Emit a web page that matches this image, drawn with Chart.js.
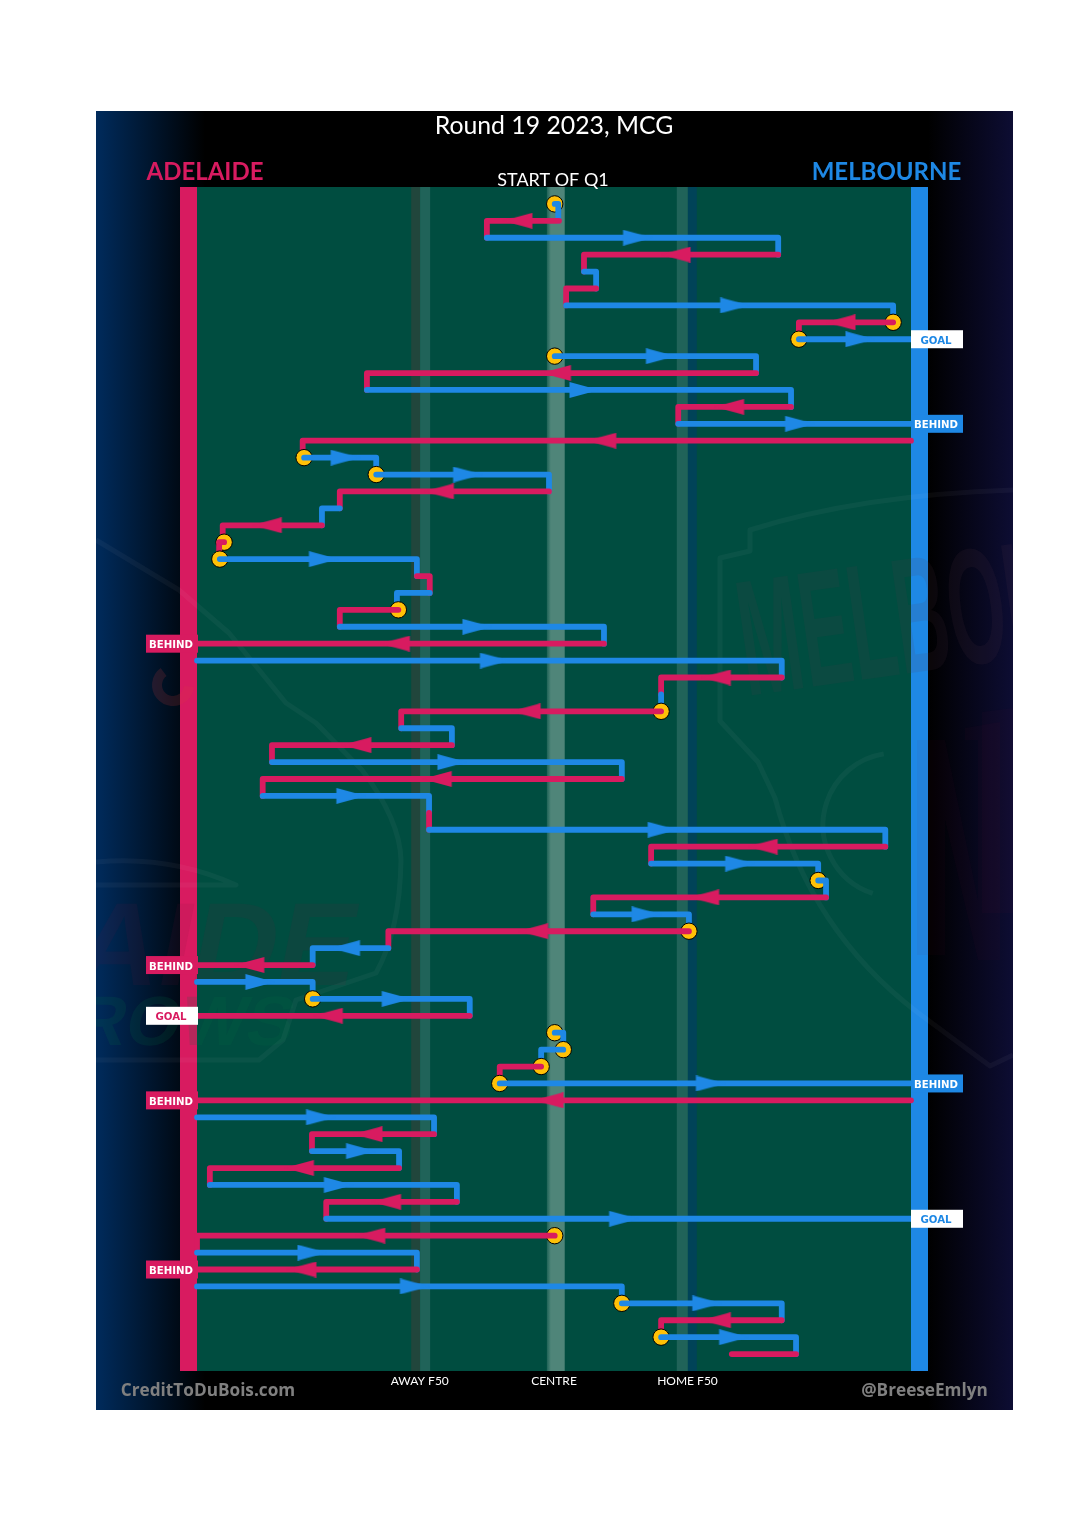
<!DOCTYPE html>
<html>
<head>
<meta charset="utf-8">
<style>html,body{margin:0;padding:0;background:#fff}canvas{display:block}</style>
<script src="https://cdn.jsdelivr.net/npm/chart.js@4"></script>
</head>
<body>
<canvas id="c" width="1080" height="1535"></canvas>
<script>
// Chain of possessions, one entry per row. Positions are % of field length (0 = away goal, 100 = home goal).
const stepTeam = ['M','A','M','A','M','A','M','A','M','M','A','M','A','M','A','M','M','A','M','A','A','M','A','M','A','M','A','M','A','M','A','M','A','M','A','M','A','M','A','M','M','A','M','A','M','A','M','M','A','M','M','A','M','A','M','A','M','A','M','A','M','A','M','A','M','M','A','M','A'];
const stepFrom = [50.1,50.7,40.6,81.4,54.2,55.9,51.7,97.5,84.3,50.1,78.3,23.8,83.2,67.4,100,15.0,25.1,49.3,20.0,17.5,3.8,3.2,30.8,32.6,28.2,20.0,57.0,0,81.9,65.0,65.0,28.6,35.7,10.5,59.5,9.2,32.5,32.5,96.4,63.6,87.0,88.1,55.5,68.9,26.8,16.2,0,16.2,38.2,50.1,51.3,48.2,42.4,100,0,33.2,16.1,28.3,1.8,36.4,18.1,50.1,0,30.8,0,59.5,81.9,65.0,83.9];
const stepTo   = [50.6,40.6,81.4,54.2,55.9,51.7,97.5,84.3,100,78.3,23.8,83.2,67.4,100,14.8,25.1,49.3,20.0,17.5,3.6,3.1,30.8,32.6,28.0,20.0,57.0,0,81.9,65.0,65.0,28.6,35.7,10.5,59.5,9.2,32.5,32.5,96.4,63.6,87.0,88.1,55.5,68.9,26.8,16.2,0,16.2,38.2,0,51.3,48.2,42.4,100,0,33.2,16.1,28.3,1.8,36.4,18.1,100,0,30.8,0,59.5,81.9,65.0,83.9,74.9];
const turnoverRows = [0,7,8,9,15,16,20,21,24,30,40,43,47,49,50,51,52,61,65,67];
const chainStartRows = [9,49,61];
const scoreRows = [8,13,26,45,48,52,53,60,63];
const scoreLabels = ['GOAL','BEHIND','BEHIND','BEHIND','GOAL','BEHIND','BEHIND','GOAL','BEHIND'];
const fieldTicks = [31.2,50,68.7];
const fieldTickLabels = ['AWAY F50','CENTRE','HOME F50'];

const RED='#D81B60', BLUE='#1E88E5', AMBER='#FFC107', GREEN='#004D40';
const teamColor = t => t==='A' ? RED : BLUE;

function makeArrow(color){
  const c=document.createElement('canvas'); c.width=42; c.height=16;
  const g=c.getContext('2d'); g.fillStyle=color;
  g.beginPath(); g.moveTo(11.5,0); g.lineTo(41,8); g.lineTo(11.5,16); g.closePath(); g.fill();
  return c;
}
const arrows={A:makeArrow(RED),M:makeArrow(BLUE)};

const datasets=[]; let seq=0; const TOTAL=200;
stepTeam.forEach((team,i)=>{
  if(turnoverRows.includes(i)){
    datasets.push({data:[{x:stepFrom[i],y:i}],showLine:false,order:TOTAL-(seq++),clip:false,
      pointStyle:'circle',pointRadius:8.2,pointBackgroundColor:AMBER,pointBorderColor:'#000',pointBorderWidth:1});
  }
  const a=stepFrom[i], b=stepTo[i], mid=(a+b)/2;
  const pts=[{x:a,y:i},{x:mid,y:i},{x:b,y:i}];
  if(i+1<stepTeam.length && !chainStartRows.includes(i+1) && !scoreRows.includes(i)) pts.push({x:b,y:i+1});
  const hasArrow=Math.abs(b-a)>9.5;
  datasets.push({data:pts,showLine:true,order:TOTAL-(seq++),clip:false,
    borderColor:teamColor(team),borderWidth:5.8,borderCapStyle:'round',borderJoinStyle:'round',tension:0,
    pointStyle:pts.map((p,k)=>k===1&&hasArrow?arrows[team]:false),
    pointRadius:pts.map((p,k)=>k===1&&hasArrow?10:0),
    pointRotation:pts.map(()=>b>=a?0:180),
    pointBorderWidth:0});
});

const backdrop={id:'backdrop',
  beforeDraw(chart){
    const {ctx,chartArea:ar,scales:{x}}=chart;
    ctx.save();
    const g=ctx.createLinearGradient(96,0,1013,0);
    const f=p=>(p-96)/917;
    g.addColorStop(0,'#002B5C'); g.addColorStop(f(205),'#000'); g.addColorStop(f(928),'#000'); g.addColorStop(1,'#0D0D33');
    ctx.fillStyle=g; ctx.fillRect(96,111,917,1299);
    const h=ar.bottom-ar.top;
    ctx.fillStyle=GREEN; ctx.fillRect(ar.left,ar.top,ar.right-ar.left,h);
    const band=(a,b,c)=>{const l=x.getPixelForValue(a),r=x.getPixelForValue(b);ctx.fillStyle=c;ctx.fillRect(l,ar.top,r-l,h);};
    band(30.0,31.25,'#21463C'); band(31.25,32.65,'#206359');
    band(67.2,68.75,'#206359'); band(68.75,70.0,'#004358');
    const cl=x.getPixelForValue(49.0), cr=x.getPixelForValue(51.5);
    const cg=ctx.createLinearGradient(cl,0,cl+4,0);
    cg.addColorStop(0,'#1f6357'); cg.addColorStop(1,'#4F8579');
    ctx.fillStyle=cg; ctx.fillRect(cl,ar.top,cr-cl,h);
    ctx.fillStyle=RED; ctx.fillRect(ar.left-17,ar.top,17,h);
    ctx.fillStyle=BLUE; ctx.fillRect(ar.right,ar.top,17,h);
    // faint club logos
    ctx.beginPath(); ctx.rect(96,187,917,1184); ctx.clip();
    const tint='rgba(120,20,60,0.10)', line='rgba(255,255,255,0.04)';
    ctx.fillStyle='rgba(90,60,70,0.12)';
    ctx.save(); ctx.translate(747,696); ctx.rotate(-0.14); ctx.scale(0.45,1); ctx.font='bold 165px "Liberation Sans"'; ctx.textBaseline='alphabetic'; ctx.fillText('MELBOURNE',0,0); ctx.restore();
    ctx.fillStyle='rgba(120,20,60,0.05)';
    const poly=(pts)=>{ctx.beginPath();pts.forEach((p,i)=>i?ctx.lineTo(p[0],p[1]):ctx.moveTo(p[0],p[1]));ctx.closePath();ctx.fill();};
    poly([[917,740],[945,740],[978,900],[978,740],[965,740],[965,728],[1000,722],[1000,960],[978,960],[945,820],[945,955],[917,955]]);
    poly([[982,712],[1013,708],[1013,913],[982,913]]);
    ctx.fillStyle=tint;
    ctx.save(); ctx.translate(350,985); ctx.transform(1,0,-0.2,1,0,0); ctx.textAlign='right'; ctx.font='bold 118px "Liberation Sans"'; ctx.fillText('ADELAIDE',0,0); ctx.restore();
    ctx.save(); ctx.translate(290,1045); ctx.transform(1,0,-0.2,1,0,0); ctx.textAlign='right'; ctx.fillStyle='rgba(0,110,70,0.16)'; ctx.font='bold 70px "Liberation Sans"'; ctx.fillText('CROWS',0,0); ctx.restore();
    ctx.strokeStyle=line; ctx.lineWidth=5; ctx.lineJoin='round';
    ctx.beginPath(); ctx.moveTo(1013,490); ctx.quadraticCurveTo(860,495,750,530); ctx.lineTo(750,551); ctx.lineTo(720,558); ctx.lineTo(720,721); ctx.lineTo(758,762); ctx.lineTo(775,798);
    ctx.quadraticCurveTo(810,930,917,1012); ctx.lineTo(990,1066); ctx.lineTo(1013,1055); ctx.stroke();
    ctx.beginPath(); ctx.arc(895,825,72,Math.PI*0.6,Math.PI*1.45); ctx.stroke();
    ctx.beginPath(); ctx.moveTo(96,540); ctx.lineTo(179,590); ctx.lineTo(229,633); ctx.lineTo(286,703); ctx.lineTo(316,723); ctx.lineTo(362,770);
    ctx.quadraticCurveTo(400,820,401,860); ctx.quadraticCurveTo(400,930,376,973); ctx.lineTo(296,1000); ctx.lineTo(283,1040); ctx.lineTo(259,1060); ctx.lineTo(96,1060); ctx.stroke();
    ctx.beginPath(); ctx.moveTo(96,862); ctx.quadraticCurveTo(170,855,236,885); ctx.lineTo(96,885); ctx.stroke();
    ctx.strokeStyle='rgba(216,60,60,0.16)'; ctx.lineWidth=10;
    ctx.beginPath(); ctx.arc(173,685,16,0.1,Math.PI*1.3); ctx.stroke();
    ctx.restore();
    // headings
    ctx.save(); ctx.textBaseline='middle'; ctx.textAlign='center';
    ctx.fillStyle='#fff'; ctx.font='24.8px Lato'; ctx.fillText('Round 19 2023, MCG',554,126);
    ctx.font='18px Lato'; ctx.fillText('START OF Q1',553,180);
    ctx.font='bold 24px Lato'; ctx.fillStyle=RED; ctx.fillText('ADELAIDE',205,172);
    ctx.fillStyle=BLUE; ctx.fillText('MELBOURNE',886.5,172);
    ctx.font='bold 17.2px "Open Sans"'; ctx.fillStyle='#808080';
    ctx.fillText('CreditToDuBois.com',208,1391); ctx.fillText('@BreeseEmlyn',924.5,1391);
    ctx.restore();
  },
  afterDatasetsDraw(chart){
    const {ctx,chartArea:ar,scales:{y}}=chart;
    ctx.save(); ctx.textAlign='center'; ctx.textBaseline='middle'; ctx.font='bold 10.2px "DejaVu Sans"';
    scoreRows.forEach((row,i)=>{
      const home=stepTeam[row]==='M', col=home?BLUE:RED, goal=scoreLabels[i]==='GOAL';
      const py=y.getPixelForValue(row), lx=home?ar.right:ar.left-51;
      ctx.fillStyle=goal?'#fff':col; ctx.fillRect(lx,py-9,52,18);
      ctx.fillStyle=goal?col:'#fff'; ctx.fillText(scoreLabels[i],lx+25,py+2);
    });
    ctx.restore();
  }
};

new Chart(document.getElementById('c'),{
  type:'scatter',
  data:{datasets},
  plugins:[backdrop],
  options:{
    responsive:false,animation:false,devicePixelRatio:1,
    layout:{padding:{left:197,right:169,top:187,bottom:0}},
    plugins:{legend:{display:false},tooltip:{enabled:false},title:{display:false}},
    scales:{
      x:{type:'linear',min:0,max:100,grid:{display:false,drawTicks:false},border:{display:false},
        afterBuildTicks(s){s.ticks=fieldTicks.map(v=>({value:v}));},
        afterFit(s){s.height=164;},
        ticks:{autoSkip:false,maxRotation:0,padding:3,color:'#fff',font:{family:'Lato',size:12},
          callback:(v)=>fieldTickLabels[fieldTicks.indexOf(v)]}},
      y:{type:'linear',min:-1,max:69,reverse:true,display:false}
    }
  }
});
</script>
</body>
</html>
